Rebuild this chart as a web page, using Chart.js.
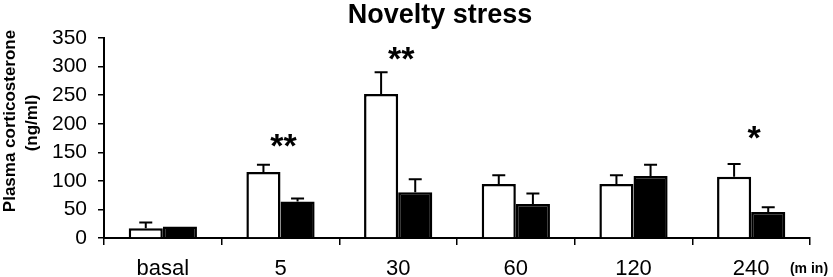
<!DOCTYPE html>
<html>
<head>
<meta charset="utf-8">
<script src="https://cdn.jsdelivr.net/npm/chart.js@4.4.1/dist/chart.umd.min.js"></script>
<style>
    html, body { margin: 0; padding: 0; background: #fff; }
    #grafica { display: block; }
</style>
</head>
<body>
<canvas id="grafica" width="833" height="277"></canvas>
<script>
"use strict";
const categorias = ["basal", "5", "30", "60", "120", "240"];
const valoresBlancos = [17, 115.5, 252, 94.5, 94.5, 107];
const errorBlancos = [10, 12.5, 38, 15.5, 15.5, 22.5];
const valoresNegros = [20, 64, 80, 59.5, 108.5, 45.5];
const errorNegros = [0, 5, 23, 18.5, 19.5, 8.5];
const significancia = ["", "**", "**", "", "", "*"];
const nivelSignificancia = [null, 171, 322, null, null, 184];

const yTicksMin = 0;
const yTicksMax = 350;
const yTicksStep = 50;

document.addEventListener("DOMContentLoaded", () => {
    const grafica = document.querySelector("#grafica");
    const fuente = "'Liberation Sans', Arial, sans-serif";

    /**
     * Barras de error (solo hacia arriba)
     */
    const barrasError = {
        id: "barrasError",
        afterDatasetsDraw(chart) {
            const { ctx } = chart;
            const escalaY = chart.scales.y;
            chart.data.datasets.forEach((ds, i) => {
                const meta = chart.getDatasetMeta(i);
                meta.data.forEach((bar, j) => {
                    const err = ds.errores[j];
                    if (!err) return;
                    const yTop = escalaY.getPixelForValue(ds.data[j] + err);
                    ctx.save();
                    ctx.strokeStyle = "#000";
                    ctx.lineWidth = 2;
                    ctx.beginPath();
                    ctx.moveTo(bar.x, bar.y);
                    ctx.lineTo(bar.x, yTop);
                    ctx.moveTo(bar.x - 6.5, yTop);
                    ctx.lineTo(bar.x + 6.5, yTop);
                    ctx.stroke();
                    ctx.restore();
                });
            });
        },
    };

    /**
     * Textos: titulo, eje y, asteriscos y unidad
     */
    const textos = {
        id: "textos",
        afterDraw(chart) {
            const { ctx } = chart;
            const escalaX = chart.scales.x;
            const escalaY = chart.scales.y;
            ctx.save();
            ctx.fillStyle = "#000";
            ctx.textAlign = "center";
            ctx.textBaseline = "alphabetic";
            ctx.font = "bold 27px " + fuente;
            ctx.fillText("Novelty stress", 440, 23);

            significancia.forEach((marca, i) => {
                if (!marca) return;
                const x = escalaX.getPixelForValue(i);
                const y = escalaY.getPixelForValue(nivelSignificancia[i]);
                ctx.font = "bold 34px " + fuente;
                ctx.textBaseline = "middle";
                ctx.fillText(marca, x + 3, y + 7);
            });

            ctx.font = "bold 14px " + fuente;
            ctx.textBaseline = "middle";
            ctx.fillText("(m in)", 809, 269);

            ctx.rotate(-Math.PI / 2);
            ctx.font = "bold 17px " + fuente;
            ctx.fillText("Plasma corticosterone", -121, 10);
            ctx.fillText("(ng/ml)", -123, 32);
            ctx.restore();
        },
    };

    new Chart(grafica, {
        type: "bar",
        data: {
            labels: categorias,
            datasets: [
                {
                    label: "Control",
                    data: valoresBlancos,
                    errores: errorBlancos,
                    backgroundColor: "#ffffff",
                    borderColor: "#000000",
                    borderWidth: 2.5,
                    categoryPercentage: 0.58,
                    barPercentage: 1,
                },
                {
                    label: "Tratado",
                    data: valoresNegros,
                    errores: errorNegros,
                    backgroundColor: "#000000",
                    borderColor: "#000000",
                    borderWidth: 2.5,
                    categoryPercentage: 0.58,
                    barPercentage: 1,
                },
            ],
        },
        options: {
            responsive: false,
            animation: false,
            layout: {
                padding: { top: 38, right: 23, left: 0, bottom: 0 },
            },
            plugins: {
                legend: { display: false },
                title: { display: false },
                tooltip: { enabled: false },
            },
            scales: {
                x: {
                    offset: true,
                    grid: {
                        offset: true,
                        drawOnChartArea: false,
                        color: "#000",
                        lineWidth: 1.5,
                        tickLength: 7,
                    },
                    border: { color: "#000", width: 2 },
                    ticks: {
                        color: "#000",
                        font: { family: fuente, size: 22 },
                        padding: 11,
                        maxRotation: 0,
                    },
                    afterFit: (scale) => {
                        scale.height = 39;
                    },
                },
                y: {
                    min: yTicksMin,
                    max: yTicksMax,
                    grid: {
                        drawOnChartArea: false,
                        color: "#000",
                        lineWidth: 1.5,
                        tickLength: 6,
                    },
                    border: { color: "#000", width: 2 },
                    ticks: {
                        stepSize: yTicksStep,
                        color: "#000",
                        font: { family: fuente, size: 21 },
                        padding: 11,
                    },
                    afterFit: (scale) => {
                        scale.width = 104;
                    },
                },
            },
        },
        plugins: [barrasError, textos],
    });
});
</script>
</body>
</html>
